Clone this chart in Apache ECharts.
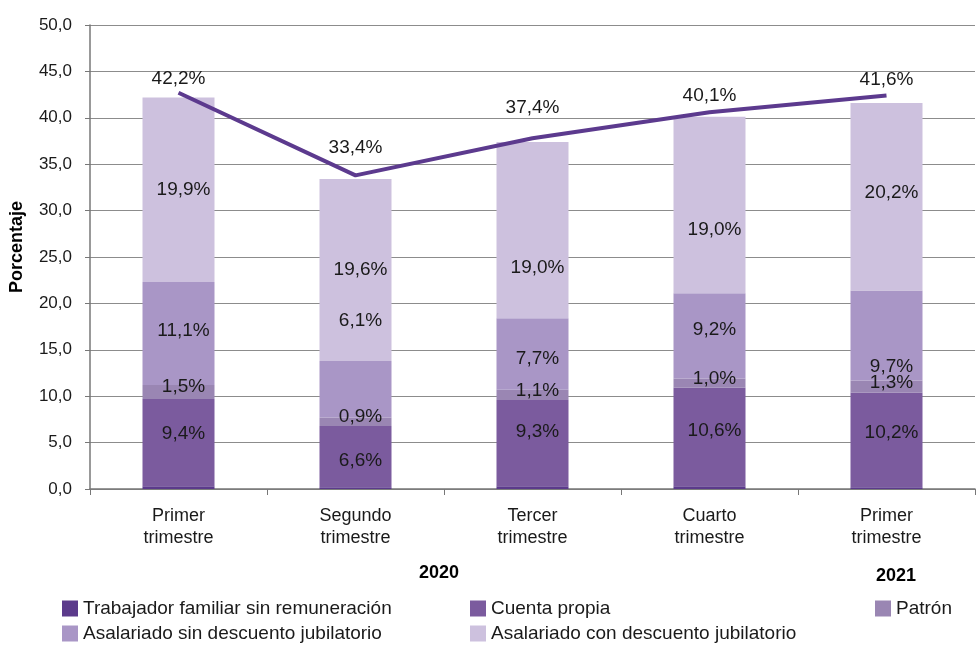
<!DOCTYPE html>
<html>
<head>
<meta charset="utf-8">
<script src="https://cdn.jsdelivr.net/npm/echarts@6/dist/echarts.min.js"></script>
<style>
  html, body { margin: 0; padding: 0; background: #fff; }
  #main { width: 977px; height: 646px; }
</style>
</head>
<body>
<div id="main"></div>
<script>
// datos
var categories = ['Primer\ntrimestre', 'Segundo\ntrimestre', 'Tercer\ntrimestre', 'Cuarto\ntrimestre', 'Primer\ntrimestre'];
var familiar = [0.3, 0.2, 0.3, 0.3, 0.2];
var cuentaPropia = [9.4, 6.6, 9.3, 10.6, 10.2];
var patron = [1.5, 0.9, 1.1, 1.0, 1.3];
var asalSin = [11.1, 6.1, 7.7, 9.2, 9.7];
var asalCon = [19.9, 19.6, 19.0, 19.0, 20.2];
// linea de total (dibujada un poco por encima de las barras en el original)
var totalLine = [42.7, 33.8, 37.8, 40.6, 42.4];
var totalLabels = ['42,2%', '33,4%', '37,4%', '40,1%', '41,6%'];
var yearLabels = ['2020', '2021'];

// desplazamientos de etiquetas (estilo)
var offCuenta = [-9, 4, -11, -6, -7];
var offPatron = [-5, -5, -4, -4, -4];
var offSin = [-3, -68, 5, -6, 31];
var offCon = [0, 0, 38, 25, -4];
var offTotal = [2, -12, -15, -1, 0];

var FONT = '"Liberation Sans", Arial, Helvetica, sans-serif';
var colors = ['#5b3a8b', '#7b5b9e', '#9a86b3', '#a996c6', '#cdc1de'];

function fmt(v) {
  return v.toFixed(1).replace('.', ',') + '%';
}

function withLabels(values, offsets) {
  return values.map(function (v, i) {
    return {
      value: v,
      label: { show: true, offset: [5, offsets[i]] }
    };
  });
}

function barSeries(name, values, color, offsets) {
  return {
    name: name,
    type: 'bar',
    stack: 'total',
    barWidth: 72,
    itemStyle: { color: color },
    label: {
      show: !!offsets,
      position: 'inside',
      color: '#1a1a1a',
      fontSize: 19,
      fontFamily: FONT,
      formatter: function (p) { return fmt(p.value); }
    },
    data: offsets ? withLabels(values, offsets) : values
  };
}

var chart = echarts.init(document.getElementById('main'), null, { renderer: 'canvas' });

var legendNames = [
  'Trabajador familiar sin remuneración',
  'Cuenta propia',
  'Patrón',
  'Asalariado sin descuento jubilatorio',
  'Asalariado con descuento jubilatorio'
];
var legendPos = [[57, 596], [465, 596], [870, 596], [57, 621], [465, 621]];

var option = {
  animation: false,
  textStyle: { fontFamily: FONT },
  grid: { left: 90, right: 2, top: 25, bottom: 157 },
  legend: legendNames.map(function (n, i) {
    return {
      left: legendPos[i][0],
      top: legendPos[i][1],
      data: [n],
      icon: 'rect',
      itemWidth: 16,
      itemHeight: 16,
      itemGap: 0,
      padding: [3, 5, 3, 5],
      textStyle: { fontSize: 19, color: '#1a1a1a', fontFamily: FONT }
    };
  }),
  xAxis: {
    type: 'category',
    data: categories,
    axisLine: { lineStyle: { color: '#777', width: 1.5 } },
    axisTick: { show: true, length: 6, lineStyle: { color: '#777' } },
    axisLabel: {
      color: '#1a1a1a',
      fontSize: 18,
      lineHeight: 22,
      margin: 16,
      fontFamily: FONT
    }
  },
  yAxis: {
    type: 'value',
    min: 0,
    max: 50,
    interval: 5,
    name: 'Porcentaje',
    nameLocation: 'middle',
    nameGap: 64,
    nameTextStyle: { fontSize: 18, fontWeight: 'bold', color: '#000', fontFamily: FONT, padding: [0, 0, 0, 20] },
    axisLine: { show: true, lineStyle: { color: '#777', width: 1.5 } },
    axisTick: { show: true, length: 5, inside: false, lineStyle: { color: '#777' } },
    axisLabel: {
      color: '#1a1a1a',
      fontSize: 17,
      margin: 18,
      fontFamily: FONT,
      formatter: function (v) { return v.toFixed(1).replace('.', ','); }
    },
    splitLine: { show: true, lineStyle: { color: '#8c8c8c', width: 1.2 } }
  },
  series: [
    barSeries(legendNames[0], familiar, colors[0], null),
    barSeries(legendNames[1], cuentaPropia, colors[1], offCuenta),
    barSeries(legendNames[2], patron, colors[2], offPatron),
    barSeries(legendNames[3], asalSin, colors[3], offSin),
    barSeries(legendNames[4], asalCon, colors[4], offCon),
    {
      name: 'Total',
      type: 'line',
      z: 5,
      symbol: 'circle',
      symbolSize: 0,
      showSymbol: true,
      lineStyle: { color: '#5c3a8e', width: 4 },
      itemStyle: { color: '#5c3a8e' },
      label: {
        show: true,
        position: 'top',
        distance: 6,
        color: '#1a1a1a',
        fontSize: 19,
        fontFamily: FONT
      },
      data: totalLine.map(function (v, i) {
        return {
          value: v,
          label: { offset: [0, offTotal[i]], formatter: totalLabels[i] }
        };
      })
    }
  ],
  graphic: [
    {
      type: 'text', left: 419, top: 564,
      style: { text: yearLabels[0], font: 'bold 18px ' + FONT, fill: '#000' }
    },
    {
      type: 'text', left: 876, top: 567,
      style: { text: yearLabels[1], font: 'bold 18px ' + FONT, fill: '#000' }
    }
  ]
};

chart.setOption(option);
</script>
</body>
</html>
